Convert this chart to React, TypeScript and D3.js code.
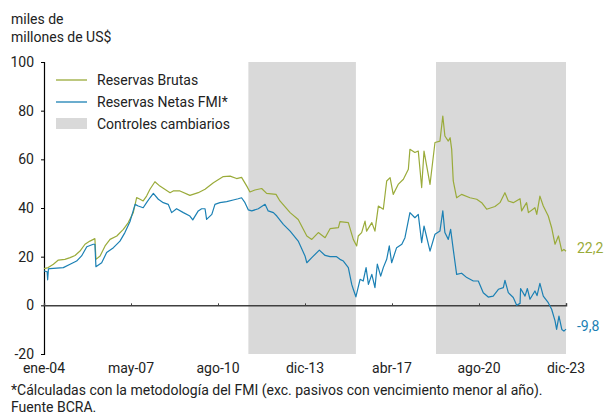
import React, { useEffect, useRef } from 'react';
import * as d3 from 'd3';

// decimal years, values in miles de millones de US$
const brutasT = [2004.0, 2004.16, 2004.36, 2004.55, 2004.8, 2005.0, 2005.19, 2005.38, 2005.57, 2005.76, 2005.95, 2005.99, 2006.15, 2006.34, 2006.53, 2006.79, 2007.04, 2007.23, 2007.42, 2007.55, 2007.68, 2007.8, 2007.93, 2008.06, 2008.25, 2008.44, 2008.83, 2008.95, 2009.21, 2009.59, 2009.91, 2010.17, 2010.49, 2010.87, 2011.13, 2011.38, 2011.57, 2011.77, 2011.89, 2012.08, 2012.34, 2012.53, 2012.89, 2013.04, 2013.43, 2013.74, 2014.07, 2014.26, 2014.51, 2014.77, 2014.96, 2015.28, 2015.34, 2015.66, 2015.85, 2015.98, 2016.04, 2016.17, 2016.3, 2016.36, 2016.56, 2016.68, 2016.81, 2017.0, 2017.13, 2017.26, 2017.38, 2017.57, 2017.77, 2017.96, 2018.02, 2018.21, 2018.34, 2018.47, 2018.56, 2018.79, 2018.85, 2018.98, 2019.17, 2019.28, 2019.36, 2019.49, 2019.56, 2019.62, 2019.68, 2019.81, 2020.0, 2020.32, 2020.58, 2020.77, 2020.96, 2021.28, 2021.47, 2021.66, 2021.79, 2021.98, 2022.24, 2022.3, 2022.49, 2022.56, 2022.81, 2022.88, 2023.0, 2023.13, 2023.32, 2023.45, 2023.58, 2023.71, 2023.84, 2023.92, 2024.0];
const brutasV = [15.1, 15.5, 16.9, 18.6, 18.9, 19.6, 20.5, 22.3, 25.1, 26.4, 27.4, 18.9, 20.3, 24.4, 27.1, 28.5, 31.2, 34.0, 38.1, 44.3, 43.6, 42.9, 44.9, 47.7, 50.8, 49.0, 46.3, 47.0, 47.0, 45.2, 46.3, 47.7, 50.4, 52.9, 53.1, 52.1, 52.6, 49.0, 46.6, 47.4, 48.0, 46.0, 45.6, 42.9, 38.1, 35.3, 28.5, 27.1, 29.9, 27.8, 31.5, 31.9, 34.4, 34.0, 27.1, 24.4, 28.5, 29.9, 34.6, 30.5, 34.0, 30.5, 40.8, 39.5, 51.1, 52.5, 45.6, 49.7, 51.8, 55.9, 64.1, 62.8, 63.4, 48.4, 63.4, 49.7, 55.2, 66.9, 67.5, 77.8, 69.6, 67.5, 68.9, 64.1, 51.1, 44.2, 45.6, 44.2, 43.6, 42.2, 39.5, 40.6, 42.2, 46.3, 42.9, 42.2, 43.8, 38.8, 42.2, 38.1, 40.1, 37.4, 44.9, 40.8, 36.7, 31.9, 25.1, 28.5, 22.3, 23.0, 22.2];

const netasT = [2004.0, 2004.12, 2004.14, 2004.17, 2004.23, 2004.49, 2004.74, 2005.0, 2005.25, 2005.44, 2005.64, 2005.89, 2005.95, 2005.99, 2006.21, 2006.4, 2006.66, 2006.91, 2007.1, 2007.3, 2007.49, 2007.61, 2007.8, 2007.93, 2008.06, 2008.19, 2008.38, 2008.57, 2008.76, 2008.89, 2009.08, 2009.34, 2009.59, 2009.7, 2009.91, 2010.04, 2010.17, 2010.23, 2010.43, 2010.55, 2010.74, 2011.0, 2011.25, 2011.44, 2011.57, 2011.7, 2011.83, 2011.96, 2012.21, 2012.47, 2012.59, 2012.79, 2012.92, 2013.17, 2013.43, 2013.74, 2014.0, 2014.07, 2014.26, 2014.55, 2014.77, 2014.96, 2015.21, 2015.34, 2015.47, 2015.66, 2015.79, 2015.85, 2015.95, 2016.11, 2016.23, 2016.34, 2016.43, 2016.56, 2016.68, 2016.77, 2016.9, 2017.0, 2017.13, 2017.23, 2017.32, 2017.51, 2017.71, 2017.83, 2018.02, 2018.21, 2018.34, 2018.47, 2018.56, 2018.79, 2018.98, 2019.17, 2019.28, 2019.36, 2019.49, 2019.58, 2019.68, 2019.81, 2020.0, 2020.2, 2020.45, 2020.64, 2020.83, 2021.02, 2021.21, 2021.41, 2021.6, 2021.66, 2021.79, 2021.98, 2022.11, 2022.24, 2022.26, 2022.43, 2022.52, 2022.62, 2022.81, 2022.89, 2023.0, 2023.13, 2023.32, 2023.45, 2023.58, 2023.64, 2023.73, 2023.84, 2023.92, 2024.0];
const netasV = [14.1, 13.8, 10.5, 15.0, 15.1, 15.3, 15.5, 16.9, 18.2, 20.3, 24.1, 25.1, 25.1, 15.9, 17.5, 21.7, 23.7, 26.4, 29.9, 34.6, 41.5, 40.8, 40.1, 42.2, 44.2, 46.0, 43.6, 42.2, 41.5, 38.1, 39.7, 38.1, 36.7, 35.1, 38.8, 39.7, 39.7, 35.3, 37.4, 41.5, 42.2, 42.6, 43.3, 43.8, 44.2, 42.2, 39.2, 38.8, 39.7, 41.5, 38.8, 38.1, 36.7, 33.3, 30.5, 26.4, 20.3, 17.5, 19.6, 22.7, 20.5, 20.0, 20.0, 18.9, 18.2, 15.5, 8.6, 6.6, 3.5, 10.7, 10.0, 15.5, 8.6, 12.7, 7.3, 16.9, 12.0, 15.5, 18.9, 24.4, 17.5, 23.7, 25.1, 27.8, 38.1, 36.0, 37.4, 25.8, 32.6, 22.3, 29.2, 30.5, 38.8, 29.9, 27.1, 31.2, 23.0, 12.7, 13.2, 11.4, 10.0, 10.0, 5.2, 3.4, 3.8, 6.6, 7.3, 10.3, 5.2, 3.2, 0.0, 0.8, 6.9, 3.8, 6.9, 2.5, 5.9, 4.0, 9.0, 3.8, 1.1, -1.6, -6.4, -9.9, -4.4, -9.9, -10.6, -9.8];

// exchange control periods (decimal years)
const controlesStart = [2011.83, 2019.02];
const controlesEnd = [2015.95, 2024.0];

const xTickLabels = ['ene-04', 'may-07', 'ago-10', 'dic-13', 'abr-17', 'ago-20', 'dic-23'];
const yTicks = [-20, 0, 20, 40, 60, 80, 100];

const seriesNames = ['Reservas Brutas', 'Reservas Netas FMI*'];
const seriesColors = ['#9aab3a', '#1b80b4'];
const shadeColor = '#d9d9d9';

export default function App() {
  const svgRef = useRef<SVGSVGElement>(null);

  useEffect(() => {
    if (!svgRef.current) return;
    const svg = d3.select(svgRef.current);
    svg.selectAll('*').remove();

    const width = 606;
    const height = 416;
    const margin = { top: 62, right: 40, bottom: 62, left: 44 };
    const font = 'Roboto, "Noto Sans", sans-serif';

    const x = d3.scaleLinear().domain([2004, 2024]).range([margin.left, width - margin.right]);
    const y = d3.scaleLinear().domain([-20, 100]).range([height - margin.bottom, margin.top]);

    // shaded periods
    svg.append('g')
      .selectAll('rect')
      .data(controlesStart.map((s, i) => [s, controlesEnd[i]]))
      .enter()
      .append('rect')
      .attr('x', d => x(d[0]))
      .attr('y', y(100))
      .attr('width', d => x(d[1]) - x(d[0]))
      .attr('height', y(-20) - y(100))
      .attr('fill', shadeColor);

    // y axis (plain hyphen for negatives, like the original)
    const yAxis = svg.append('g')
      .attr('transform', `translate(${margin.left},0)`)
      .call(d3.axisLeft(y).tickValues(yTicks).tickSize(3).tickPadding(7).tickFormat(d => String(d)));
    yAxis.select('.domain').attr('stroke', '#000').attr('stroke-width', 1.2);
    yAxis.selectAll('.tick line').attr('stroke', '#000');
    yAxis.selectAll('text').attr('font-family', font).attr('font-size', 14).attr('fill', '#222');

    // zero line with ticks
    const xTickVals = xTickLabels.map((_, i) => 2004 + (i * 20) / 6);
    const xAxis = svg.append('g')
      .attr('transform', `translate(0,${y(0)})`)
      .call(d3.axisTop(x).tickValues(xTickVals).tickSize(2).tickFormat(() => ''));
    xAxis.select('.domain').attr('stroke', '#404040').attr('stroke-width', 1.5);
    xAxis.selectAll('.tick line').attr('stroke', '#404040');

    // x labels at bottom
    svg.append('g')
      .selectAll('text')
      .data(xTickVals)
      .enter()
      .append('text')
      .attr('x', d => x(d))
      .attr('y', 373)
      .attr('text-anchor', 'middle')
      .attr('font-family', font)
      .attr('font-size', 14)
      .attr('fill', '#222')
      .text((_, i) => xTickLabels[i]);

    const line = d3.line<[number, number]>()
      .x(d => x(d[0]))
      .y(d => y(d[1]));

    const series = [
      d3.zip(brutasT, brutasV) as [number, number][],
      d3.zip(netasT, netasV) as [number, number][],
    ];

    series.forEach((s, i) => {
      svg.append('path')
        .datum(s)
        .attr('d', line)
        .attr('fill', 'none')
        .attr('stroke', seriesColors[i])
        .attr('stroke-width', 1.2)
        .attr('stroke-linejoin', 'round');

      const last = s[s.length - 1];
      svg.append('text')
        .attr('x', x(last[0]) + 11)
        .attr('y', y(last[1]) + 2)
        .attr('font-family', font)
        .attr('font-size', 14)
        .attr('fill', seriesColors[i])
        .text(last[1].toFixed(1).replace('.', ','));
    });

    // legend
    const legend = svg.append('g');
    seriesNames.forEach((name, i) => {
      const ly = 80 + i * 22;
      legend.append('line')
        .attr('x1', 56).attr('x2', 87).attr('y1', ly).attr('y2', ly)
        .attr('stroke', seriesColors[i]).attr('stroke-width', 1.3);
      legend.append('text')
        .attr('x', 97).attr('y', ly + 5)
        .attr('font-family', font).attr('font-size', 14).attr('fill', '#222')
        .text(name);
    });
    legend.append('rect')
      .attr('x', 56).attr('y', 118).attr('width', 31).attr('height', 11)
      .attr('fill', shadeColor);
    legend.append('text')
      .attr('x', 97).attr('y', 129)
      .attr('font-family', font).attr('font-size', 14).attr('fill', '#222')
      .text('Controles cambiarios');

    // unit title
    svg.append('text')
      .attr('x', 11).attr('y', 24)
      .attr('font-family', font).attr('font-size', 14).attr('fill', '#222')
      .text('miles de');
    svg.append('text')
      .attr('x', 11).attr('y', 42)
      .attr('font-family', font).attr('font-size', 14).attr('fill', '#222')
      .text('millones de US$');

    // footnote
    svg.append('text')
      .attr('x', 11).attr('y', 395)
      .attr('font-family', font).attr('font-size', 14).attr('fill', '#222')
      .text('*Cálculadas con la metodología del FMI (exc. pasivos con vencimiento menor al año).');
    svg.append('text')
      .attr('x', 11).attr('y', 412)
      .attr('font-family', font).attr('font-size', 14).attr('fill', '#222')
      .text('Fuente BCRA.');
  }, []);

  return (
    <svg
      ref={svgRef}
      width={606}
      height={416}
      viewBox="0 0 606 416"
      style={{ position: 'absolute', left: 0, top: 0, background: '#fff' }}
    />
  );
}
